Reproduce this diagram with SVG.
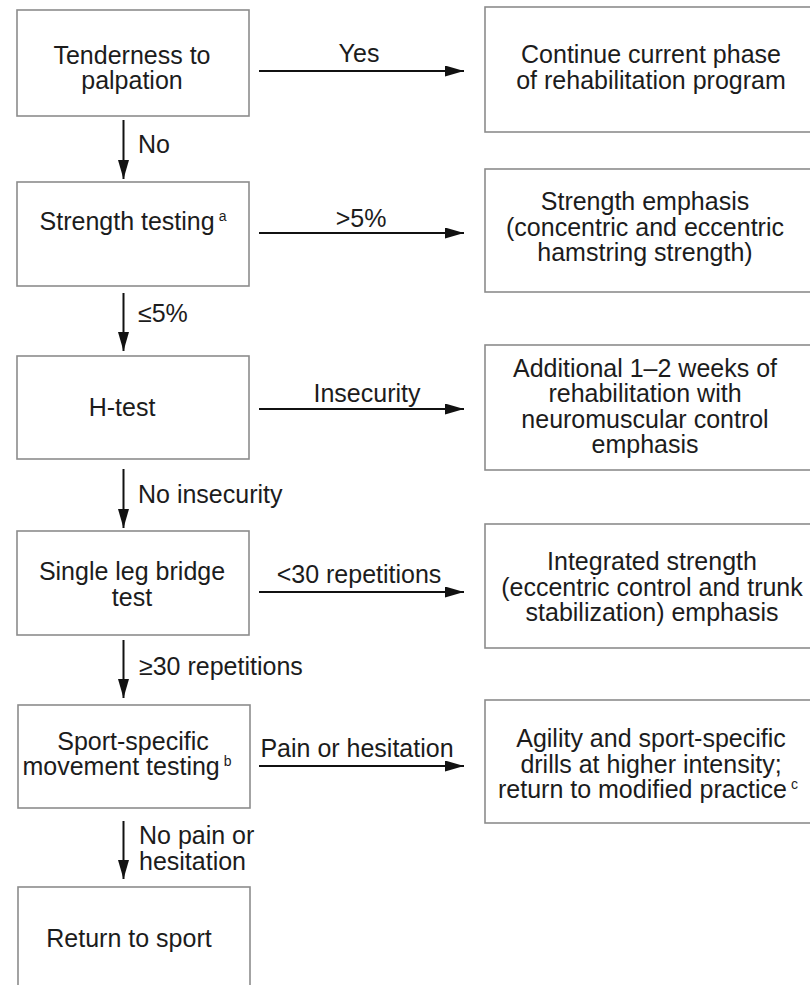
<svg xmlns="http://www.w3.org/2000/svg" width="810" height="985" viewBox="0 0 810 985">
<defs>
<style>
.box{fill:#ffffff;stroke:#8c8c8c;stroke-width:1.6}
.t{font-family:"Liberation Sans",Arial,sans-serif;font-size:25px;fill:#1c1c1c}
.m{text-anchor:middle}
.sup{font-size:14px}
.c{stroke:#111;stroke-width:2;fill:none}
</style>
<marker id="ah" markerUnits="userSpaceOnUse" markerWidth="20" markerHeight="12" refX="19" refY="5.5" orient="auto">
<path d="M0,0 L19,5.5 L0,11 Z" fill="#111"/>
</marker>
</defs>
<rect x="0" y="0" width="810" height="985" fill="#ffffff"/>

<g id="n-tenderness">
<rect class="box" x="17" y="10" width="232" height="106"/>
<text class="t m" x="132" y="64">Tenderness to</text>
<text class="t m" x="132" y="89">palpation</text>
</g>
<g id="n-strength">
<rect class="box" x="17" y="182" width="232" height="104"/>
<text class="t m" x="133" y="230">Strength testing<tspan class="sup" dx="4" dy="-9">a</tspan></text>
</g>
<g id="n-htest">
<rect class="box" x="17" y="356" width="232" height="103"/>
<text class="t m" x="122" y="416">H-test</text>
</g>
<g id="n-bridge">
<rect class="box" x="17" y="531" width="232" height="104"/>
<text class="t m" x="132" y="580">Single leg bridge</text>
<text class="t m" x="132" y="606">test</text>
</g>
<g id="n-sport">
<rect class="box" x="18" y="705" width="232" height="103"/>
<text class="t m" x="133" y="750">Sport-specific</text>
<text class="t m" x="127" y="775">movement testing<tspan class="sup" dx="4" dy="-9">b</tspan></text>
</g>
<g id="n-return">
<rect class="box" x="18" y="887" width="232" height="130"/>
<text class="t m" x="129" y="947">Return to sport</text>
</g>

<g id="r-continue">
<rect class="box" x="485" y="7" width="345" height="125"/>
<text class="t m" x="651" y="63">Continue current phase</text>
<text class="t m" x="651" y="89">of rehabilitation program</text>
</g>
<g id="r-strength">
<rect class="box" x="485" y="169" width="345" height="123"/>
<text class="t m" x="645" y="210">Strength emphasis</text>
<text class="t m" x="645" y="236">(concentric and eccentric</text>
<text class="t m" x="645" y="261">hamstring strength)</text>
</g>
<g id="r-additional">
<rect class="box" x="485" y="345" width="345" height="125"/>
<text class="t m" x="645" y="377">Additional 1–2 weeks of</text>
<text class="t m" x="645" y="402">rehabilitation with</text>
<text class="t m" x="645" y="428">neuromuscular control</text>
<text class="t m" x="645" y="453">emphasis</text>
</g>
<g id="r-integrated">
<rect class="box" x="485" y="524" width="345" height="124"/>
<text class="t m" x="652" y="570">Integrated strength</text>
<text class="t m" x="652" y="596">(eccentric control and trunk</text>
<text class="t m" x="652" y="621">stabilization) emphasis</text>
</g>
<g id="r-agility">
<rect class="box" x="485" y="700" width="345" height="123"/>
<text class="t m" x="651" y="747">Agility and sport-specific</text>
<text class="t m" x="651" y="773">drills at higher intensity;</text>
<text class="t m" x="648" y="798">return to modified practice<tspan class="sup" dx="4" dy="-9">c</tspan></text>
</g>

<g id="connectors">
<line class="c" x1="123.5" y1="120" x2="123.5" y2="179" marker-end="url(#ah)"/>
<line class="c" x1="123.5" y1="293" x2="123.5" y2="351" marker-end="url(#ah)"/>
<line class="c" x1="123.5" y1="469" x2="123.5" y2="528" marker-end="url(#ah)"/>
<line class="c" x1="123.5" y1="640" x2="123.5" y2="698" marker-end="url(#ah)"/>
<line class="c" x1="123.5" y1="821" x2="123.5" y2="879" marker-end="url(#ah)"/>
<line class="c" x1="259" y1="71" x2="464" y2="71" marker-end="url(#ah)"/>
<line class="c" x1="259" y1="233" x2="464" y2="233" marker-end="url(#ah)"/>
<line class="c" x1="259" y1="409" x2="464" y2="409" marker-end="url(#ah)"/>
<line class="c" x1="259" y1="592" x2="464" y2="592" marker-end="url(#ah)"/>
<line class="c" x1="259" y1="766" x2="464" y2="766" marker-end="url(#ah)"/>
<text class="t" x="138" y="153">No</text>
<text class="t" x="138" y="322">≤5%</text>
<text class="t" x="138" y="503">No insecurity</text>
<text class="t" x="139" y="675">≥30 repetitions</text>
<text class="t" x="139" y="844">No pain or</text>
<text class="t" x="139" y="870">hesitation</text>
<text class="t m" x="359" y="62">Yes</text>
<text class="t m" x="361" y="227">&gt;5%</text>
<text class="t m" x="367" y="402">Insecurity</text>
<text class="t m" x="359" y="583">&lt;30 repetitions</text>
<text class="t m" x="357" y="757">Pain or hesitation</text>
</g>
</svg>
